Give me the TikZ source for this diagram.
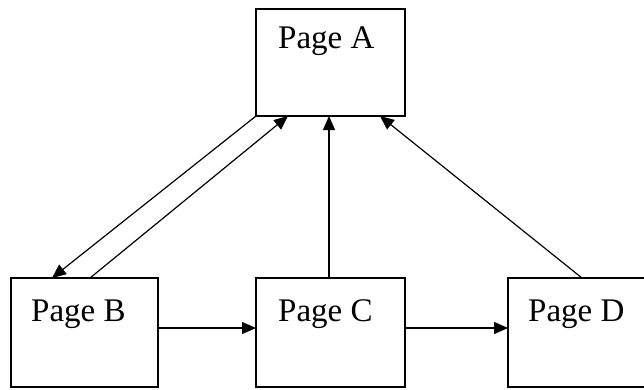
\documentclass[tikz,border=0pt]{standalone}
\usepackage{fontspec}
\setmainfont{Liberation Serif}
\usetikzlibrary{arrows.meta}
\begin{document}
\begin{tikzpicture}[x=1pt,y=-1pt,
  box/.style={draw,line width=1.3pt,inner sep=0pt,outer sep=0pt,anchor=north west},
  lbl/.style={anchor=base west,inner sep=0pt,font=\fontsize{33}{40}\selectfont},
  arr/.style={line width=1.2pt,-{Triangle[length=14pt,width=12pt]}}]
\useasboundingbox (0,0) rectangle (644,389);
\clip (0,0) rectangle (644,389);
\node[box,minimum width=149pt,minimum height=107pt] (A) at (256,9) {};
\node[box,minimum width=147pt,minimum height=109pt] (B) at (11,278) {};
\node[box,minimum width=149pt,minimum height=109pt] (C) at (256,278) {};
\node[box,minimum width=150pt,minimum height=109pt] (D) at (508,278) {};
\node[lbl] (la) at (278,48) {Page A};
\node[lbl] (lb) at (31,321) {Page B};
\node[lbl] (lc) at (278,321) {Page C};
\node[lbl] (ld) at (528,321) {Page D};
\draw[arr] (A.south west) -- ([xshift=41pt]B.north west);
\draw[arr] ([xshift=79pt]B.north west) -- ([xshift=32pt]A.south west);
\draw[arr] ([xshift=-1.5pt]C.north) -- ([xshift=-1.5pt]A.south);
\draw[arr] ([xshift=74pt]D.north west) -- ([xshift=124pt]A.south west);
\draw[arr] ([yshift=4.5pt]B.east) -- ([yshift=4.5pt]C.west);
\draw[arr] ([yshift=4.5pt]C.east) -- ([yshift=4.5pt]D.west);
\end{tikzpicture}
\end{document}
